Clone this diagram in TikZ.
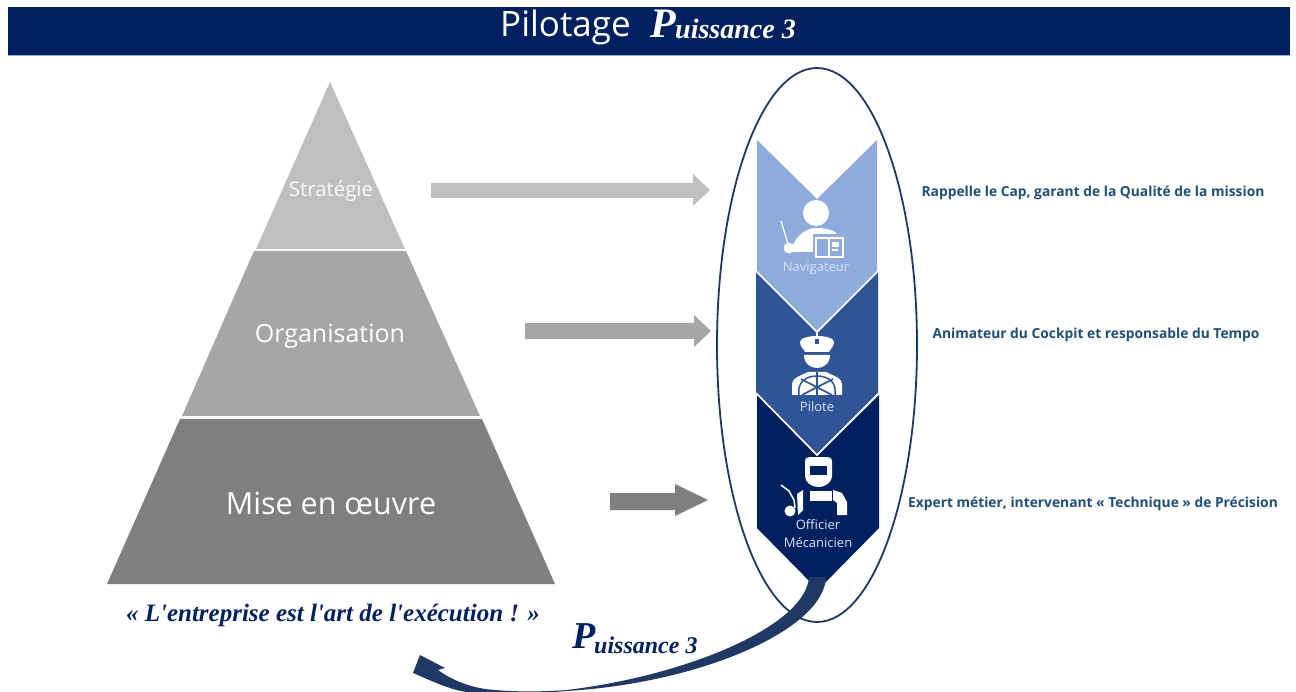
\documentclass[tikz,border=0pt]{standalone}
\usepackage{fontspec}
\setmainfont{Open Sans}
\newfontfamily\scriptf{Liberation Serif}[ItalicFont=* Bold Italic]
\definecolor{navy}{HTML}{002060}
\definecolor{midblue}{HTML}{2F5597}
\definecolor{lightblue}{HTML}{8FAADC}
\definecolor{curveblue}{HTML}{1F3864}
\definecolor{graya}{HTML}{BFBFBF}
\definecolor{grayb}{HTML}{A6A6A6}
\definecolor{grayc}{HTML}{7F7F7F}
\definecolor{desc}{HTML}{1F4E79}
\definecolor{iconlabel}{HTML}{DAE3F3}
\tikzset{
  x=1pt,y=-1pt,
  pyrtext/.style={text=white,font=\fontsize{#1}{#1}\selectfont,inner sep=0pt},
  desctext/.style={text=desc,font=\fontsize{13.8}{14}\selectfont\bfseries,inner sep=0pt},
  iconlabelnode/.style={text=iconlabel,font=\fontsize{13}{13}\selectfont,inner sep=0pt},
  hand/.style={text=#1,inner sep=0pt},
  sep/.style={draw=white,line width=1.6pt,line join=miter}
}
\begin{document}
\begin{tikzpicture}
\useasboundingbox (0,0) rectangle (1296,692);
\fill[white] (0,0) rectangle (1296,692);
% header
\fill[navy] (8,7) rectangle (1290,55);
\fill[lightblue] (8,55) rectangle (1290,56.5);
\node[pyrtext=35,anchor=west] (title) at (500,27) {Pilotage};
\node[hand=white,anchor=west] (titlep) at (650,24) {\scriptf\itshape\fontsize{42}{42}\selectfont P};
\node[hand=white,anchor=west] (titler) at (675,29) {\scriptf\itshape\fontsize{28}{28}\selectfont uissance 3};
% pyramid
\fill[graya] (330,82) -- (405,249) -- (256,249) -- cycle;
\fill[grayb] (254,251) -- (406,251) -- (480,416) -- (182,416) -- cycle;
\fill[grayc] (180,419) -- (482,419) -- (555,584) -- (107,584) -- cycle;
\node[pyrtext=20.4,text=white!92!graya] (strat) at (331,191) {Stratégie};
\node[pyrtext=25] (orga) at (330,336) {Organisation};
\node[pyrtext=30.5] (mise) at (331,503) {Mise en œuvre};
% block arrows
\fill[graya] (431,183) -- (693,183) -- (693,174) -- (710,190) -- (693,206) -- (693,198) -- (431,198) -- cycle;
\fill[grayb] (525,323) -- (694,323) -- (694,315) -- (711,331) -- (694,347) -- (694,339) -- (525,339) -- cycle;
\fill[grayc] (610,493) -- (675,493) -- (675,484) -- (708,500) -- (675,516) -- (675,510) -- (610,510) -- cycle;
% ellipse
\draw[curveblue,line width=1.8pt] (817,345) ellipse [x radius=100,y radius=277];
% chevrons
\fill[navy] (757,395) -- (817,456) -- (879,395) -- (879,528) -- (818,590) -- (757,528) -- cycle;
\fill[midblue] (756,272) -- (817,333) -- (878,272) -- (878,393) -- (817,455) -- (756,393) -- cycle;
\draw[sep] (756,393) -- (817,455) -- (879,393);
\fill[lightblue] (757,140) -- (817,199) -- (877,140) -- (877,272) -- (817,331) -- (757,272) -- cycle;
\draw[sep] (756,271) -- (817,332) -- (878,271);
% navigateur icon
\fill[white] (816,213) circle (13);
\fill[white] (791,252) .. controls (793,238) and (805,228) .. (816,228) .. controls (826,228) and (834,230) .. (837,234) -- (813,234) -- (813,252) -- cycle;
\draw[white,line width=1.3pt] (781,221) -- (788,244);
\fill[white] (789,248) circle (5.5);
\draw[white,line width=2pt,fill=lightblue] (816,238) rectangle (843,257);
\draw[white,line width=1.6pt] (829,238) -- (829,257);
\fill[white] (832,242) rectangle (839,247);
\fill[white] (832,249) rectangle (838,251);
\node[iconlabelnode] (nav) at (816,268) {Navigateur};
% pilote icon
\fill[white] (800,342) .. controls (800,334) and (834,334) .. (834,342) .. controls (834,347) and (830,349) .. (829,352) -- (805,352) .. controls (804,349) and (800,347) .. (800,342) -- cycle;
\fill[midblue] (815,339) rectangle (819,344);
\fill[white] (816,333) rectangle (818,336);
\fill[white] (804,355) -- (830,355) .. controls (830,364) and (823,368) .. (817,368) .. controls (811,368) and (804,364) .. (804,355) -- cycle;
\fill[white] (792,395) -- (792,384) .. controls (792,378) and (800,376) .. (808,372) -- (826,372) .. controls (834,376) and (842,378) .. (842,384) -- (842,395) -- cycle;
\draw[midblue,line width=1.7pt] (817,372) -- (817,395) (801,379) -- (832,395) (833,379) -- (802,395);
\draw[midblue,line width=1.5pt] (799,395) .. controls (797,382) and (806,376) .. (817,376) .. controls (828,376) and (837,382) .. (835,395);
\node[iconlabelnode] (pil) at (817,407) {Pilote};
% officier icon
\fill[white] (805,462) .. controls (805,458) and (807,457) .. (810,457) -- (827,457) .. controls (830,457) and (832,458) .. (832,462) -- (832,476) .. controls (832,482) and (826,487) .. (818,487) .. controls (811,487) and (805,482) .. (805,476) -- cycle;
\fill[navy] (810,466) rectangle (827,475);
\fill[white] (810,491) rectangle (832,501);
\fill[white] (797,494) -- (803,490) -- (803,510) -- (798,515) -- cycle;
\fill[white] (833,490) -- (842,493) -- (847,502) -- (847,515) -- (837,515) -- (837,503) -- (833,500) -- cycle;
\draw[white,line width=1.5pt] (781,485) -- (789,491) -- (794,500) -- (795,508);
\fill[white] (790,511) circle (5.5);
\node[iconlabelnode] (off) at (818,525) {Officier};
\node[iconlabelnode] (mec) at (818,543) {Mécanicien};
% curved arrow
\fill[curveblue] (809,577) -- (826,577)
  .. controls (824,630) and (700,683) .. (567,691)
  .. controls (530,694) and (495,695) .. (467,692)
  .. controls (450,690) and (432,681) .. (413,673)
  -- (420,655) -- (445,668) -- (438,670)
  .. controls (452,680) and (467,686) .. (485,689)
  .. controls (510,692) and (540,692) .. (567,690)
  .. controls (690,675) and (806,625) .. (809,577) -- cycle;
% descriptions
\node[desctext] (d1) at (1093,193) {Rappelle le Cap, garant de la Qualité de la mission};
\node[desctext] (d2) at (1096,335) {Animateur du Cockpit et responsable du Tempo};
\node[desctext] (d3) at (1093,504) {Expert métier, intervenant « Technique » de Précision};
% script texts
\node[hand=navy] (quote) at (333,615) {\scriptf\itshape\fontsize{25}{25}\selectfont « L'entreprise est l'art de l'exécution ! »};
\node[hand=navy,anchor=west] (p3p) at (572,636) {\scriptf\itshape\fontsize{38}{38}\selectfont P};
\node[hand=navy,anchor=west] (p3r) at (594,645) {\scriptf\itshape\fontsize{24}{24}\selectfont uissance 3};
\end{tikzpicture}
\end{document}
